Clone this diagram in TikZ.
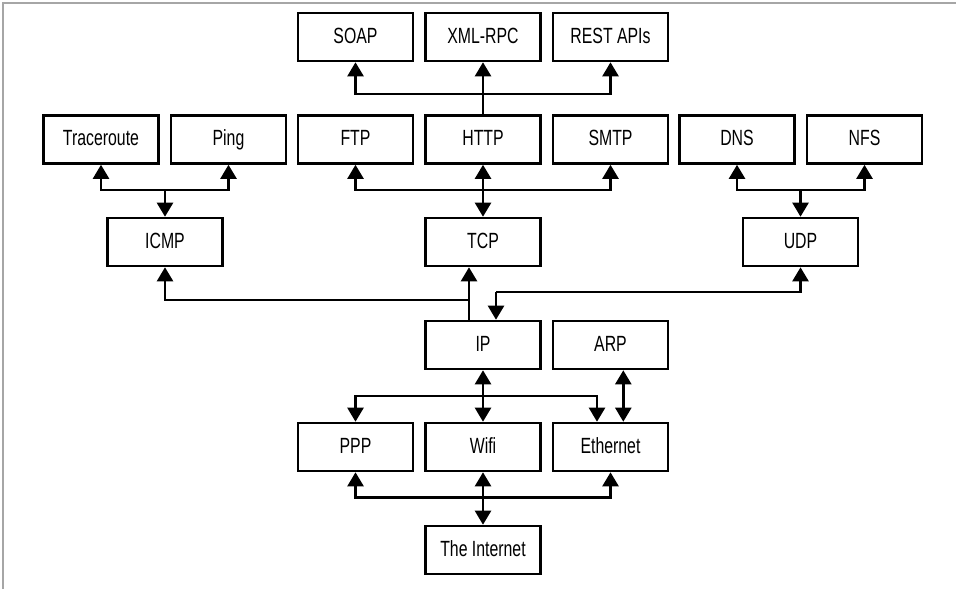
\documentclass[tikz,border=0pt]{standalone}
\usepackage{fontspec}
\setmainfont[FakeStretch=0.72]{Liberation Sans}
\usetikzlibrary{arrows.meta}

\begin{document}
\begin{tikzpicture}[x=0.5pt,y=-0.5pt]
  \tikzstyle{layer}=[rectangle, draw, line width=1.3pt, minimum width=57.5pt, minimum height=24pt, inner sep=0pt, text height=8pt, text depth=2pt, font=\fontsize{11}{12}\selectfont]
  \tikzstyle{wire}=[line width=1.2pt]
  \tikzstyle{link}=[wire, -{Triangle[length=7pt,width=8pt]}]
  \tikzstyle{both}=[wire, {Triangle[length=7pt,width=8pt]}-{Triangle[length=7pt,width=8pt]}]
  \useasboundingbox (0,0) rectangle (956,589);
  \draw[gray!70, line width=0.6pt] (3,589) -- (3,3) -- (956,3);

  % Node definitions
  \node[layer] (soap) at (355.5,37) {SOAP};
  \node[layer] (xmlrpc) at (483,37) {XML-RPC};
  \node[layer] (rest) at (610.5,37) {REST APIs};
  \node[layer] (trace) at (101,139.5) {Traceroute};
  \node[layer] (ping) at (228.5,139.5) {Ping};
  \node[layer] (ftp) at (355.5,139.5) {FTP};
  \node[layer] (http) at (483,139.5) {HTTP};
  \node[layer] (smtp) at (610.5,139.5) {SMTP};
  \node[layer] (dns) at (737,139.5) {DNS};
  \node[layer] (nfs) at (864.5,139.5) {NFS};
  \node[layer] (icmp) at (165,242) {ICMP};
  \node[layer] (tcp) at (483,242) {TCP};
  \node[layer] (udp) at (800.5,242) {UDP};
  \node[layer] (ip) at (483,345) {IP};
  \node[layer] (arp) at (610.5,345) {ARP};
  \node[layer] (ppp) at (355.5,447) {PPP};
  \node[layer] (wifi) at (483,447) {Wifi};
  \node[layer] (eth) at (610.5,447) {Ethernet};
  \node[layer] (inet) at (483,550) {The Internet};

  % Junction points
  \coordinate (jhttp) at (483,94);
  \coordinate (jicmp) at (165,189.7);
  \coordinate (jtcp) at (483,189.7);
  \coordinate (judp) at (800.5,189.7);
  \coordinate (jip) at (469,300);
  \coordinate (jipudp) at (496,291.7);
  \coordinate (jlink) at (483,395.7);
  \coordinate (jnet) at (483,497.3);

  % Edge definitions
  \draw[link] (http) -- (xmlrpc);
  \draw[link] (jhttp) -| (soap);
  \draw[link] (jhttp) -| (rest);
  \draw[link] (jicmp) -| (trace);
  \draw[link] (jicmp) -| (ping);
  \draw[link] (jicmp) -- (icmp);
  \draw[both] (http) -- (tcp);
  \draw[link] (jtcp) -| (ftp);
  \draw[link] (jtcp) -| (smtp);
  \draw[link] (judp) -| (dns);
  \draw[link] (judp) -| (nfs);
  \draw[link] (judp) -- (udp);
  \draw[wire] (jip |- ip.north) -- (jip);
  \draw[link] (jip) -- (jip |- tcp.south);
  \draw[link] (jip) -| (icmp);
  \draw[link] (jipudp) -| (udp);
  \draw[link] (jipudp) -- (jipudp |- ip.north);
  \draw[both] (ip) -- (wifi);
  \draw[link] (jlink) -| (ppp);
  \draw[link] (jlink) -| ([xshift=-6.75pt]eth.north);
  \draw[both] ([xshift=6.4pt]arp.south) -- ([xshift=6.4pt]eth.north);
  \draw[both] (wifi) -- (inet);
  \draw[link] (jnet) -| (ppp);
  \draw[link] (jnet) -| (eth);
\end{tikzpicture}
\end{document}
